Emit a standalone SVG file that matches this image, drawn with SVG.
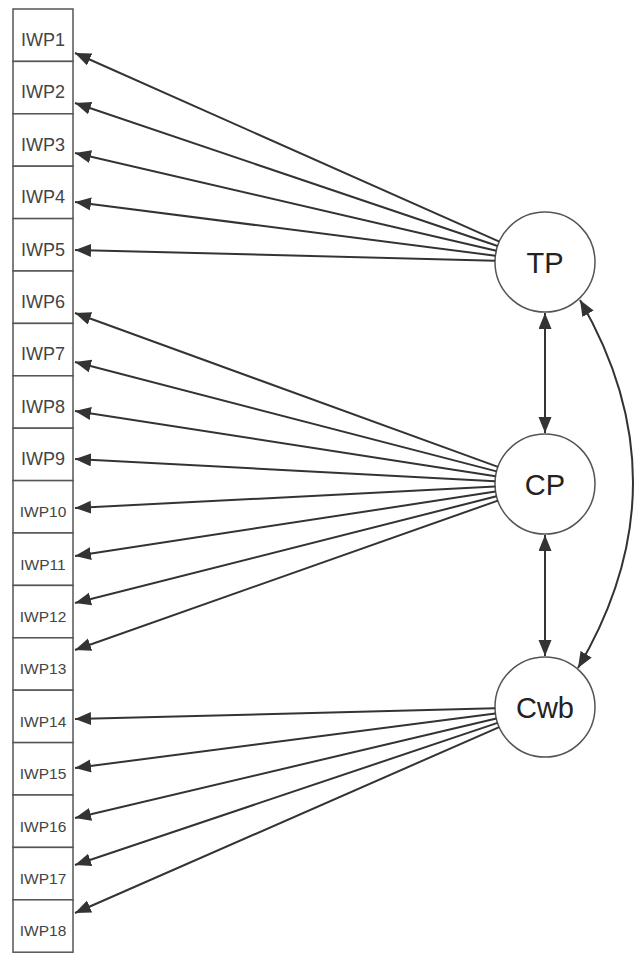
<svg xmlns="http://www.w3.org/2000/svg" width="638" height="955" viewBox="0 0 638 955">
<style>
.box{fill:#fff;stroke:#555;stroke-width:1.5}
.lbl{font-family:"Liberation Sans",Arial,sans-serif;fill:#444;text-anchor:middle}
.big{font-size:18px}
.sm{font-size:15.5px}
.lat{fill:#fff;stroke:#555;stroke-width:1.5}
.latl{font-family:"Liberation Sans",Arial,sans-serif;font-size:29px;fill:#222;text-anchor:middle}
.c{fill:none;stroke:#333;stroke-width:2;marker-end:url(#ah)}
.d{fill:none;stroke:#333;stroke-width:2;marker-end:url(#ah);marker-start:url(#ah)}
</style>
<defs>
<marker id="ah" markerUnits="userSpaceOnUse" markerWidth="18" markerHeight="14" refX="16" refY="6.5" orient="auto-start-reverse">
<path d="M0,0 L16,6.5 L0,13 z" fill="#333"/>
</marker>
</defs>
<rect width="638" height="955" fill="#fff"/>
<g id="IWP1"><rect class="box" x="13" y="9" width="60" height="52.4"/><text class="lbl big" x="43" y="46">IWP1</text></g>
<g id="IWP2"><rect class="box" x="13" y="61.4" width="60" height="52.4"/><text class="lbl big" x="43" y="98.4">IWP2</text></g>
<g id="IWP3"><rect class="box" x="13" y="113.8" width="60" height="52.4"/><text class="lbl big" x="43" y="150.8">IWP3</text></g>
<g id="IWP4"><rect class="box" x="13" y="166.2" width="60" height="52.4"/><text class="lbl big" x="43" y="203.2">IWP4</text></g>
<g id="IWP5"><rect class="box" x="13" y="218.6" width="60" height="52.4"/><text class="lbl big" x="43" y="255.6">IWP5</text></g>
<g id="IWP6"><rect class="box" x="13" y="271" width="60" height="52.4"/><text class="lbl big" x="43" y="308">IWP6</text></g>
<g id="IWP7"><rect class="box" x="13" y="323.4" width="60" height="52.4"/><text class="lbl big" x="43" y="360.4">IWP7</text></g>
<g id="IWP8"><rect class="box" x="13" y="375.8" width="60" height="52.4"/><text class="lbl big" x="43" y="412.8">IWP8</text></g>
<g id="IWP9"><rect class="box" x="13" y="428.2" width="60" height="52.4"/><text class="lbl big" x="43" y="465.2">IWP9</text></g>
<g id="IWP10"><rect class="box" x="13" y="480.6" width="60" height="52.4"/><text class="lbl sm" x="43" y="517.1">IWP10</text></g>
<g id="IWP11"><rect class="box" x="13" y="533" width="60" height="52.4"/><text class="lbl sm" x="43" y="569.5">IWP11</text></g>
<g id="IWP12"><rect class="box" x="13" y="585.4" width="60" height="52.4"/><text class="lbl sm" x="43" y="621.9">IWP12</text></g>
<g id="IWP13"><rect class="box" x="13" y="637.8" width="60" height="52.4"/><text class="lbl sm" x="43" y="674.3">IWP13</text></g>
<g id="IWP14"><rect class="box" x="13" y="690.2" width="60" height="52.4"/><text class="lbl sm" x="43" y="726.7">IWP14</text></g>
<g id="IWP15"><rect class="box" x="13" y="742.6" width="60" height="52.4"/><text class="lbl sm" x="43" y="779.1">IWP15</text></g>
<g id="IWP16"><rect class="box" x="13" y="795" width="60" height="52.4"/><text class="lbl sm" x="43" y="831.5">IWP16</text></g>
<g id="IWP17"><rect class="box" x="13" y="847.4" width="60" height="52.4"/><text class="lbl sm" x="43" y="883.9">IWP17</text></g>
<g id="IWP18"><rect class="box" x="13" y="899.8" width="60" height="52.4"/><text class="lbl sm" x="43" y="936.3">IWP18</text></g>
<g id="TP"><circle class="lat" cx="545" cy="262" r="50"/><text class="latl" x="545" y="272.5">TP</text></g>
<g id="CP"><circle class="lat" cx="545" cy="484" r="50"/><text class="latl" x="545" y="495">CP</text></g>
<g id="Cwb"><circle class="lat" cx="545" cy="707" r="50"/><text class="latl" x="545" y="718">Cwb</text></g>
<g id="connectors">
<line class="c" x1="499.3" y1="241.7" x2="75" y2="53"/>
<line class="c" x1="497.6" y1="246" x2="75" y2="103"/>
<line class="c" x1="496.3" y1="250.7" x2="75" y2="153"/>
<line class="c" x1="495.4" y1="255.7" x2="75" y2="202"/>
<line class="c" x1="495" y1="260.7" x2="75" y2="250"/>
<line class="c" x1="498" y1="466.9" x2="75" y2="313"/>
<line class="c" x1="496.6" y1="471.4" x2="75" y2="362"/>
<line class="c" x1="495.6" y1="476.3" x2="75" y2="411"/>
<line class="c" x1="495.1" y1="481.3" x2="75" y2="459"/>
<line class="c" x1="495.1" y1="486.6" x2="75" y2="508"/>
<line class="c" x1="495.6" y1="491.6" x2="75" y2="556"/>
<line class="c" x1="496.5" y1="496.3" x2="75" y2="603"/>
<line class="c" x1="497.9" y1="500.6" x2="75" y2="650"/>
<line class="c" x1="495" y1="708.3" x2="75" y2="719"/>
<line class="c" x1="495.4" y1="713.4" x2="75" y2="768"/>
<line class="c" x1="496.3" y1="718.5" x2="75" y2="818"/>
<line class="c" x1="497.6" y1="722.9" x2="75" y2="865"/>
<line class="c" x1="499.2" y1="727.1" x2="75" y2="913"/>
<line class="d" x1="545" y1="313" x2="545" y2="433"/>
<line class="d" x1="545" y1="535" x2="545" y2="656"/>
<path class="d" d="M580,300 Q687,484 578,668"/>
</g>
</svg>
